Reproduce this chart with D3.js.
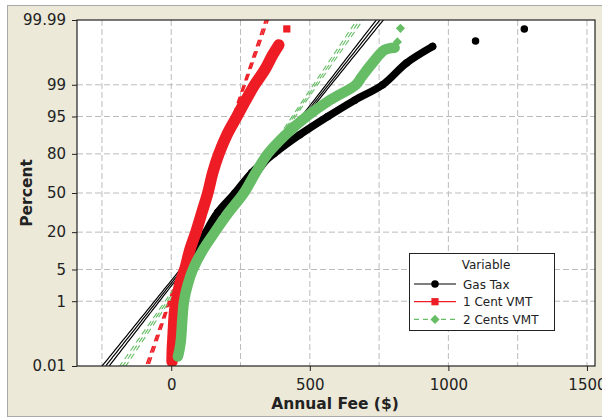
<!DOCTYPE html>
<html>
<head>
<meta charset="utf-8">
<script src="https://cdn.jsdelivr.net/npm/d3@7"></script>
<style>
  body { margin: 0; background: #fff; }
  text { font-family: "DejaVu Sans", Verdana, sans-serif; }
</style>
</head>
<body>
<svg id="chart" width="602" height="418"></svg>
<script>
// ---------------------------------------------------------------------------
// data (percent, annual fee $)
var seriesNames = ['Gas Tax', '1 Cent VMT', '2 Cents VMT'];

var gasPct = [0.039, 0.10, 0.33, 1, 2.5, 5, 11, 20, 34, 50, 67, 80, 89.5, 95, 97.7, 99, 99.74, 99.918];
var gasFee = [24, 35, 42, 49, 60, 75, 96, 125, 168, 230, 291, 370, 464, 565, 662, 763, 849, 943];
var gasTailPct = [99.946, 99.979];
var gasTailFee = [1098, 1274];

var oneCentPct = [0.0147, 0.039, 0.082, 0.33, 0.61, 1, 2.5, 5, 11, 20, 34, 50, 67, 80, 89.5, 95, 97.7, 99, 99.59, 99.85, 99.927];
var oneCentFee = [3, 4, 6, 10, 13, 19, 31, 49, 67, 89, 111, 132, 150, 172, 201, 237, 269, 301, 337, 366, 388];
var oneCentTailPct = [99.979];
var oneCentTailFee = [417];

var twoCentPct = [0.022, 0.039, 0.082, 0.33, 1, 2.5, 5, 11, 20, 34, 50, 67, 80, 89.5, 95, 97.7, 99, 99.37, 99.74, 99.895, 99.91];
var twoCentFee = [24, 30, 35, 40, 46, 60, 78, 114, 157, 208, 262, 305, 348, 413, 489, 572, 666, 687, 726, 770, 806];
var twoCentTailPct = [99.942, 99.98];
var twoCentTailFee = [816, 827];

// normal fit parameters (mean, stdev, N)
var fitMean = [258, 129, 253];
var fitStDev = [133, 58, 115];
var fitN = [3300, 3300, 3300];

var xTicks = [0, 500, 1000, 1500];
var xGrid = [-250, 0, 250, 500, 750, 1000, 1250, 1500];
var yTicks = [0.01, 1, 5, 20, 50, 80, 95, 99, 99.99];
var yTickLabels = ['0.01', '1', '5', '20', '50', '80', '95', '99', '99.99'];
var yGrid = [1, 5, 20, 50, 80, 95, 99];

// ---------------------------------------------------------------------------
function probit(p) {
    var a = [-3.969683028665376e+01, 2.209460984245205e+02, -2.759285104469687e+02, 1.383577518672690e+02, -3.066479806614716e+01, 2.506628277459239e+00];
    var b = [-5.447609879822406e+01, 1.615858368580409e+02, -1.556989798598866e+02, 6.680131188771972e+01, -1.328068155833361e+01];
    var c = [-7.784894002430293e-03, -3.223964580411365e-01, -2.400758277161838e+00, -2.549732539343734e+00, 4.374664141464968e+00, 2.938163982698783e+00];
    var d = [7.784695709041462e-03, 3.224671290700398e-01, 2.445134137142996e+00, 3.754408661907416e+00];
    var q, r;
    if (p < 0.02425) {
        q = Math.sqrt(-2 * Math.log(p));
        return (((((c[0]*q+c[1])*q+c[2])*q+c[3])*q+c[4])*q+c[5]) / ((((d[0]*q+d[1])*q+d[2])*q+d[3])*q+1);
    }
    if (p > 1 - 0.02425) {
        q = Math.sqrt(-2 * Math.log(1 - p));
        return -(((((c[0]*q+c[1])*q+c[2])*q+c[3])*q+c[4])*q+c[5]) / ((((d[0]*q+d[1])*q+d[2])*q+d[3])*q+1);
    }
    q = p - 0.5; r = q * q;
    return (((((a[0]*r+a[1])*r+a[2])*r+a[3])*r+a[4])*r+a[5])*q / (((((b[0]*r+b[1])*r+b[2])*r+b[3])*r+b[4])*r+1);
}

var svg = d3.select('#chart');
var plotL = 77, plotR = 595, plotT = 20, plotB = 366;

var zMin = probit(0.0001), zMax = probit(0.9999);
var x = d3.scaleLinear().domain([-340, 1529]).range([plotL, plotR]);
var yz = d3.scaleLinear().domain([zMin, zMax]).range([plotB, plotT]);
function yp(pct) { return yz(probit(pct / 100)); }

// panel
svg.append('rect').attr('x', 7.5).attr('y', 5.5).attr('width', 610).attr('height', 411)
    .attr('fill', '#ece9d8').attr('stroke', '#a9a9a9');
svg.append('rect').attr('x', plotL).attr('y', plotT).attr('width', plotR - plotL).attr('height', plotB - plotT)
    .attr('fill', '#fff');

svg.append('clipPath').attr('id', 'clip').append('rect')
    .attr('x', plotL).attr('y', plotT).attr('width', plotR - plotL).attr('height', plotB - plotT);

// grid
var grid = svg.append('g').attr('stroke', '#bcbcbc').attr('stroke-dasharray', '6,3');
grid.selectAll('.vg').data(xGrid).enter().append('line')
    .attr('x1', d => x(d)).attr('x2', d => x(d)).attr('y1', plotT).attr('y2', plotB);
grid.selectAll('.hg').data(yGrid).enter().append('line')
    .attr('x1', plotL).attr('x2', plotR).attr('y1', d => yp(d)).attr('y2', d => yp(d));

var plot = svg.append('g').attr('clip-path', 'url(#clip)');

// fitted lines with 95% confidence bands
var colors = ['#000000', '#ee1c24', '#66bd66'];
var dashes = [null, '7,5', '6,4'];
var widths = [1.2, 1.4, 1.1];
var zs = d3.range(zMin - 0.2, zMax + 0.25, 0.05);
fitMean.forEach(function(mu, i) {
    var s = fitStDev[i], se = s / Math.sqrt(fitN[i]);
    [-1, 0, 1].forEach(function(k) {
        var ln = d3.line()
            .x(function(z) { return x(mu + s * z + k * 1.96 * se * Math.sqrt(1 + z * z / 2)); })
            .y(function(z) { return yz(z); });
        plot.append('path').attr('d', ln(zs)).attr('fill', 'none')
            .attr('stroke', colors[i]).attr('stroke-width', widths[i])
            .attr('stroke-dasharray', dashes[i]);
    });
});

// points
var bodies = [
    { pct: gasPct, fee: gasFee, tp: gasTailPct, tf: gasTailFee, w: 7.5 },
    { pct: oneCentPct, fee: oneCentFee, tp: oneCentTailPct, tf: oneCentTailFee, w: 11.5 },
    { pct: twoCentPct, fee: twoCentFee, tp: twoCentTailPct, tf: twoCentTailFee, w: 10.5 }
];
var symbols = [
    d3.symbol().type(d3.symbolCircle).size(44),
    d3.symbol().type(d3.symbolSquare).size(52),
    d3.symbol().type(d3.symbolSquare).size(42)
];
var band = d3.line().x(d => x(d[1])).y(d => yp(d[0])).curve(d3.curveCatmullRom);

bodies.forEach(function(b, i) {
    var pts = b.pct.map((p, j) => [p, b.fee[j]]);
    var tail = b.tp.map((p, j) => [p, b.tf[j]]);
    var g = plot.append('g');
    g.append('path').attr('d', band(pts)).attr('fill', 'none')
        .attr('stroke', colors[i]).attr('stroke-width', b.w)
        .attr('stroke-linecap', 'round').attr('stroke-linejoin', 'round');
    g.selectAll('.pt').data(pts.concat(tail)).enter().append('path')
        .attr('d', symbols[i])
        .attr('transform', d => 'translate(' + x(d[1]) + ',' + yp(d[0]) + ')' + (i === 2 ? ' rotate(45)' : ''))
        .attr('fill', colors[i]);
});

// frame and axes
svg.append('rect').attr('x', plotL).attr('y', plotT).attr('width', plotR - plotL).attr('height', plotB - plotT)
    .attr('fill', 'none').attr('stroke', '#222').attr('stroke-width', 1.2);

var xAxis = svg.append('g').attr('transform', 'translate(0,' + plotB + ')')
    .call(d3.axisBottom(x).tickValues(xTicks).tickSize(5).tickPadding(8).tickFormat(d3.format('d')));
var yAxis = svg.append('g').attr('transform', 'translate(' + plotL + ',0)')
    .call(d3.axisLeft(yz).tickValues(yTicks.map(p => probit(p / 100))).tickSize(5).tickPadding(6)
        .tickFormat((d, i) => yTickLabels[i]));
[xAxis, yAxis].forEach(function(a) {
    a.select('.domain').remove();
    a.selectAll('line').attr('stroke', '#222');
    a.selectAll('text').attr('fill', '#222').style('font-size', '15px')
        .style('font-family', '"DejaVu Sans", Verdana, sans-serif');
});

svg.append('text').attr('x', 335).attr('y', 409).attr('text-anchor', 'middle')
    .style('font-size', '15.5px').style('font-weight', 'bold').attr('fill', '#222')
    .text('Annual Fee ($)');
svg.append('text').attr('transform', 'translate(32,193) rotate(-90)').attr('text-anchor', 'middle')
    .style('font-size', '15.5px').style('font-weight', 'bold').attr('fill', '#222')
    .text('Percent');

// legend
var lg = svg.append('g');
lg.append('rect').attr('x', 409.5).attr('y', 253.5).attr('width', 145).attr('height', 77)
    .attr('fill', '#fff').attr('stroke', '#222');
lg.append('text').attr('x', 486).attr('y', 269).attr('text-anchor', 'middle')
    .style('font-size', '12px').attr('fill', '#222').text('Variable');
var legendDash = [null, null, '5,4'];
seriesNames.forEach(function(name, i) {
    var cy = 284 + i * 17.7;
    lg.append('line').attr('x1', 414).attr('x2', 456).attr('y1', cy).attr('y2', cy)
        .attr('stroke', colors[i]).attr('stroke-width', 1.2).attr('stroke-dasharray', legendDash[i]);
    lg.append('path').attr('d', symbols[i])
        .attr('transform', 'translate(435,' + cy + ')' + (i === 2 ? ' rotate(45)' : ''))
        .attr('fill', colors[i]);
    lg.append('text').attr('x', 463).attr('y', cy + 4.5)
        .style('font-size', '12px').attr('fill', '#222').text(name);
});
</script>
</body>
</html>
